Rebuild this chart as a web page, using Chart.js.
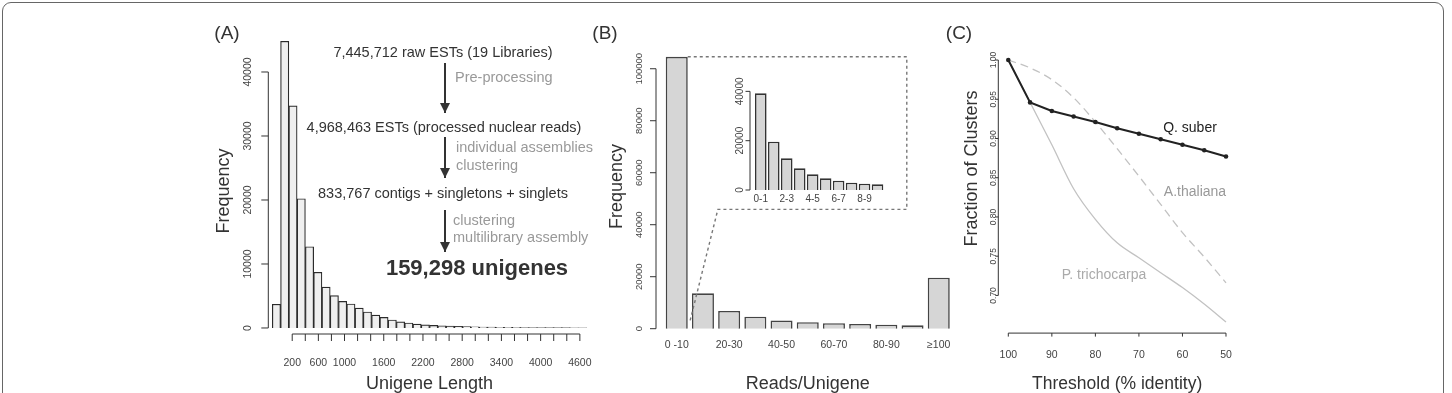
<!DOCTYPE html>
<html>
<head>
<meta charset="utf-8">
<script src="https://cdn.jsdelivr.net/npm/chart.js@4.4.1/dist/chart.umd.min.js"></script>
<style>
  html, body { margin: 0; padding: 0; background: #fff; }
  #fig { position: relative; width: 1452px; height: 393px; overflow: hidden; font-family: "Liberation Sans", Arial, Helvetica, sans-serif; }
  #fig canvas { position: absolute; left: 0; top: 0; }
  .frame { position: absolute; left: 2px; top: 2px; width: 1442px; height: 440px; border: 1.5px solid #666; border-radius: 9px; box-sizing: border-box; }
  .t { position: absolute; white-space: nowrap; transform: translate(-50%, -50%); color: #333; line-height: 1; }
  .l { transform: translate(0, -50%); }
  .g { color: #999; }
  .arrow { position: absolute; width: 2px; background: #333; }
  .arrow::after { content: ''; position: absolute; left: -4px; bottom: 0; border-left: 5px solid transparent; border-right: 5px solid transparent; border-top: 10px solid #333; }
</style>
</head>
<body>
<div id="fig">
  <div class="frame"></div>
  <canvas id="chartA" width="1452" height="393"></canvas>
  <canvas id="chartB" width="1452" height="393"></canvas>
  <canvas id="chartInset" width="1452" height="393"></canvas>
  <canvas id="chartC" width="1452" height="393"></canvas>

  <div class="t" style="left:227px;top:32px;font-size:19px">(A)</div>
  <div class="t" style="left:605px;top:32px;font-size:19px">(B)</div>
  <div class="t" style="left:959px;top:32px;font-size:19px">(C)</div>

  <div class="t" style="left:443px;top:52px;font-size:14.5px">7,445,712 raw ESTs (19 Libraries)</div>
  <div class="arrow" style="left:444px;top:63px;height:50px"></div>
  <div class="t l g" style="left:455px;top:77px;font-size:14.5px">Pre-processing</div>
  <div class="t" style="left:444px;top:127px;font-size:14.5px">4,968,463 ESTs (processed nuclear reads)</div>
  <div class="arrow" style="left:444px;top:137px;height:41px"></div>
  <div class="t l g" style="left:456px;top:147px;font-size:14.5px">individual assemblies</div>
  <div class="t l g" style="left:456px;top:165px;font-size:14.5px">clustering</div>
  <div class="t" style="left:443px;top:193px;font-size:14.5px">833,767 contigs + singletons + singlets</div>
  <div class="arrow" style="left:444px;top:210px;height:42px"></div>
  <div class="t l g" style="left:453px;top:220px;font-size:14.5px">clustering</div>
  <div class="t l g" style="left:453px;top:237px;font-size:14.5px">multilibrary assembly</div>
  <div class="t" style="left:477px;top:268px;font-size:22px;font-weight:bold">159,298 unigenes</div>

  <div class="t" style="left:1190px;top:127px;font-size:14px;color:#222">Q. suber</div>
  <div class="t" style="left:1195px;top:191px;font-size:14px;color:#999">A.thaliana</div>
  <div class="t" style="left:1104px;top:274px;font-size:14px;color:#aaa">P. trichocarpa</div>
</div>

<script>
// (A) unigene length histogram
const lengthBins = ['0', '120', '240', '360', '480', '600', '720', '840', '960', '1080',
  '1200', '1320', '1440', '1560', '1680', '1800', '1920', '2040', '2160', '2280',
  '2400', '2520', '2640', '2760', '2880', '3000', '3120', '3240', '3360', '3480',
  '3600', '3720', '3840', '3960', '4080', '4200', '4320', '4440'];
const lengthCounts = [3700, 44800, 34700, 20200, 12700, 8700, 6400, 5050, 4150, 3750,
  3100, 2500, 2000, 1650, 1250, 950, 780, 620, 480, 400,
  330, 280, 240, 200, 170, 150, 130, 110, 100, 90,
  80, 70, 60, 55, 50, 45, 40, 35];
const lengthTicks = [200, 400, 600, 800, 1000, 1200, 1400, 1600, 1800, 2000, 2200, 2400,
  2600, 2800, 3000, 3200, 3400, 3600, 3800, 4000, 4200, 4400, 4600];
const lengthTickLabels = [200, 600, 1000, 1600, 2200, 2800, 3400, 4000, 4600];
const freqTicksA = [0, 10000, 20000, 30000, 40000];

// (B) reads per unigene
const readBins = ['0 -10', '10-20', '20-30', '30-40', '40-50', '50-60', '60-70', '70-80', '80-90', '90-100', '\u2265100'];
const readCounts = [104600, 13600, 6800, 4600, 3200, 2500, 2100, 1800, 1550, 1300, 19600];
const freqTicksB = [0, 20000, 40000, 60000, 80000, 100000];
const insetBins = ['0-1', '1-2', '2-3', '3-4', '4-5', '5-6', '6-7', '7-8', '8-9', '9-10'];
const insetCounts = [39200, 19600, 12850, 8800, 6370, 4740, 3790, 2970, 2560, 2300];
const freqTicksInset = [0, 10000, 20000, 30000, 40000, 50000];
const insetTickLabels = [0, 20000, 40000];
const calloutPath = [[0.42, 104600], [8.78, 104600], [8.78, 45900], [1.57, 45900], [0.5, 2700]];

// (C) fraction of clusters vs threshold
const thresholds = [100, 95, 90, 85, 80, 75, 70, 65, 60, 55, 50];
const quercus = [1.000, 0.946, 0.935, 0.928, 0.921, 0.913, 0.906, 0.899, 0.892, 0.885, 0.877];
const arabidopsis = [1.000, 0.990, 0.975, 0.952, 0.921, 0.887, 0.852, 0.816, 0.780, 0.749, 0.716];
const populus = [1.000, 0.946, 0.892, 0.836, 0.797, 0.767, 0.748, 0.729, 0.710, 0.689, 0.666];
const fractionTicks = [0.70, 0.75, 0.80, 0.85, 0.90, 0.95, 1.00];
const thresholdTicks = [100, 90, 80, 70, 60, 50];

Chart.defaults.font.family = '"Liberation Sans", Arial, Helvetica, sans-serif';
Chart.defaults.color = '#444';
Chart.defaults.animation = false;

// R style axes: line only between first and last tick, outward tick marks
const rAxes = {
    id: 'rAxes',
    afterDraw(chart, args, opts) {
        const ctx = chart.ctx;
        ctx.save();
        ctx.strokeStyle = opts.color || '#333';
        ctx.lineWidth = opts.lineWidth || 1;
        (opts.axes || []).forEach(a => {
            const s = chart.scales[a.id];
            const px = s.ticks.map(t => s.getPixelForValue(t.value));
            const lo = Math.min(...px), hi = Math.max(...px);
            ctx.beginPath();
            if (s.isHorizontal()) {
                const y = s.top + (a.gap || 0);
                ctx.moveTo(lo, y);
                ctx.lineTo(hi, y);
                px.forEach(p => { ctx.moveTo(p, y); ctx.lineTo(p, y + a.len); });
            } else {
                const x = s.right - (a.gap || 0);
                ctx.moveTo(x, lo);
                ctx.lineTo(x, hi);
                px.forEach(p => { ctx.moveTo(x, p); ctx.lineTo(x - a.len, p); });
            }
            ctx.stroke();
        });
        ctx.restore();
    }
};

const callout = {
    id: 'callout',
    afterDatasetsDraw(chart, args, opts) {
        if (!opts.path) return;
        const { x, y } = chart.scales;
        const ctx = chart.ctx;
        ctx.save();
        ctx.setLineDash([3, 3]);
        ctx.strokeStyle = '#777';
        ctx.lineWidth = 1.4;
        ctx.beginPath();
        opts.path.forEach(([i, v], k) => {
            const px = x.getPixelForValue(i), py = y.getPixelForValue(v);
            if (k === 0) ctx.moveTo(px, py); else ctx.lineTo(px, py);
        });
        ctx.stroke();
        ctx.restore();
    }
};

function plainAxis(extra) {
    return Object.assign({
        grid: { display: false },
        border: { display: false }
    }, extra);
}

new Chart(document.getElementById('chartA'), {
    type: 'bar',
    data: {
        labels: lengthBins,
        datasets: [{
            data: lengthCounts,
            xAxisID: 'x',
            yAxisID: 'y',
            backgroundColor: '#efefef',
            borderColor: '#2b2b2b',
            borderWidth: 1.2,
            barPercentage: 1,
            categoryPercentage: 1,
            clip: false
        }]
    },
    options: {
        responsive: false,
        layout: { padding: { left: 212.3, top: 48, right: 865.3, bottom: 0 } },
        plugins: {
            legend: { display: false },
            tooltip: { enabled: false },
            rAxes: { axes: [{ id: 'y', gap: 4, len: 7 }, { id: 'x2', gap: 0, len: 7 }] }
        },
        scales: {
            x: { type: 'category', display: false, offset: true },
            x2: plainAxis({
                type: 'linear',
                position: 'bottom',
                min: 0,
                max: 4600,
                afterBuildTicks: s => { s.ticks = lengthTicks.map(v => ({ value: v })); },
                ticks: {
                    autoSkip: false,
                    maxRotation: 0,
                    padding: 14.7,
                    font: { size: 10.5 },
                    callback: v => lengthTickLabels.includes(v) ? String(v) : ''
                },
                title: { display: true, text: 'Unigene Length', font: { size: 18 }, color: '#333', padding: { top: 0, bottom: -1.5 } },
                afterFit: s => { s.height = 59; }
            }),
            y: plainAxis({
                type: 'linear',
                min: -940,
                max: 43750,
                afterBuildTicks: s => { s.ticks = freqTicksA.map(v => ({ value: v })); },
                ticks: {
                    minRotation: 90,
                    maxRotation: 90,
                    crossAlign: 'center',
                    padding: 1.3,
                    font: { size: 10.5 },
                    callback: v => String(v)
                },
                title: { display: true, text: 'Frequency', font: { size: 18 }, color: '#333', padding: { top: 1, bottom: 0 } },
                afterFit: s => { s.width = 60; }
            })
        }
    },
    plugins: [rAxes]
});

new Chart(document.getElementById('chartB'), {
    type: 'bar',
    data: {
        labels: readBins,
        datasets: [{
            data: readCounts,
            backgroundColor: '#d6d6d6',
            borderColor: '#444',
            borderWidth: 1.6,
            barPercentage: 0.84,
            categoryPercentage: 1,
            clip: false
        }]
    },
    options: {
        responsive: false,
        layout: { padding: { left: 603.65, top: 44.3, right: 500.15, bottom: 0 } },
        plugins: {
            legend: { display: false },
            tooltip: { enabled: false },
            rAxes: { axes: [{ id: 'y', gap: 7.65, len: 6 }] },
            callout: { path: calloutPath }
        },
        scales: {
            x: plainAxis({
                type: 'category',
                offset: true,
                ticks: {
                    autoSkip: false,
                    maxRotation: 0,
                    padding: 2,
                    font: { size: 10.5 },
                    callback: (v, i) => i % 2 === 0 ? readBins[i] : ''
                },
                title: { display: true, text: 'Reads/Unigene', font: { size: 18 }, color: '#333', padding: { top: 0, bottom: -1.5 } },
                afterFit: s => { s.height = 64.3; }
            }),
            y: plainAxis({
                type: 'linear',
                min: 0,
                max: 109400,
                afterBuildTicks: s => { s.ticks = freqTicksB.map(v => ({ value: v })); },
                ticks: {
                    minRotation: 90,
                    maxRotation: 90,
                    crossAlign: 'center',
                    padding: 0.2,
                    font: { size: 9.5 },
                    callback: v => String(v)
                },
                title: { display: true, text: 'Frequency', font: { size: 18 }, color: '#333', padding: { top: 2.2, bottom: 0 } },
                afterFit: s => { s.width = 60; }
            })
        }
    },
    plugins: [rAxes, callout]
});

new Chart(document.getElementById('chartInset'), {
    type: 'bar',
    data: {
        labels: insetBins,
        datasets: [{
            data: insetCounts,
            backgroundColor: '#d6d6d6',
            borderColor: '#333',
            borderWidth: 1.6,
            barPercentage: 0.895,
            categoryPercentage: 1
        }]
    },
    options: {
        responsive: false,
        layout: { padding: { left: 714.3, top: 66.7, right: 568, bottom: 173 } },
        plugins: {
            legend: { display: false },
            tooltip: { enabled: false },
            rAxes: { axes: [{ id: 'y', gap: 4.3, len: 4.5 }] }
        },
        scales: {
            x: plainAxis({
                type: 'category',
                offset: true,
                ticks: {
                    autoSkip: false,
                    maxRotation: 0,
                    padding: -5,
                    font: { size: 10 },
                    callback: (v, i) => i % 2 === 0 ? insetBins[i] : ''
                },
                afterFit: s => { s.height = 30; }
            }),
            y: plainAxis({
                type: 'linear',
                min: 0,
                max: 50000,
                afterBuildTicks: s => { s.ticks = freqTicksInset.map(v => ({ value: v })); },
                ticks: {
                    minRotation: 90,
                    maxRotation: 90,
                    crossAlign: 'center',
                    padding: -7.6,
                    font: { size: 10 },
                    callback: v => insetTickLabels.includes(v) ? String(v) : ''
                },
                afterFit: s => { s.width = 40; }
            })
        }
    },
    plugins: [rAxes]
});

new Chart(document.getElementById('chartC'), {
    type: 'line',
    data: {
        datasets: [{
            label: 'Q. suber',
            data: thresholds.map((t, i) => ({ x: t, y: quercus[i] })),
            borderColor: '#222',
            borderWidth: 2,
            pointRadius: 2.3,
            pointBackgroundColor: '#222',
            pointBorderWidth: 0,
            tension: 0,
            clip: false
        }, {
            label: 'A.thaliana',
            data: thresholds.map((t, i) => ({ x: t, y: arabidopsis[i] })),
            borderColor: '#c2c2c2',
            borderWidth: 1.3,
            borderDash: [8, 5],
            pointRadius: 0,
            cubicInterpolationMode: 'monotone',
            clip: false
        }, {
            label: 'P. trichocarpa',
            data: thresholds.map((t, i) => ({ x: t, y: populus[i] })),
            borderColor: '#c2c2c2',
            borderWidth: 1.3,
            pointRadius: 0,
            cubicInterpolationMode: 'monotone',
            clip: false
        }]
    },
    options: {
        responsive: false,
        layout: { padding: { left: 949.6, top: 0, right: 217.3, bottom: 0 } },
        plugins: {
            legend: { display: false },
            tooltip: { enabled: false },
            rAxes: { axes: [{ id: 'y', gap: 1.3, len: 3 }, { id: 'x', gap: 0, len: 3.5 }] }
        },
        scales: {
            x: plainAxis({
                type: 'linear',
                min: 48,
                max: 102,
                reverse: true,
                afterBuildTicks: s => { s.ticks = thresholdTicks.map(v => ({ value: v })); },
                ticks: {
                    autoSkip: false,
                    maxRotation: 0,
                    padding: 7.5,
                    font: { size: 10.5 },
                    callback: v => String(v)
                },
                title: { display: true, text: 'Threshold (% identity)', font: { size: 17.5 }, color: '#333', padding: { top: 0, bottom: -1.5 } },
                afterFit: s => { s.height = 59.9; }
            }),
            y: plainAxis({
                type: 'linear',
                min: 0.652,
                max: 1.0714,
                afterBuildTicks: s => { s.ticks = fractionTicks.map(v => ({ value: v })); },
                ticks: {
                    minRotation: 90,
                    maxRotation: 90,
                    crossAlign: 'center',
                    padding: -10.3,
                    font: { size: 8.5 },
                    callback: v => v.toFixed(2)
                },
                title: { display: true, text: 'Fraction of Clusters', font: { size: 18 }, color: '#333', padding: { top: 12.1, bottom: 0 } },
                afterFit: s => { s.width = 50; }
            })
        }
    },
    plugins: [rAxes]
});
</script>
</body>
</html>
